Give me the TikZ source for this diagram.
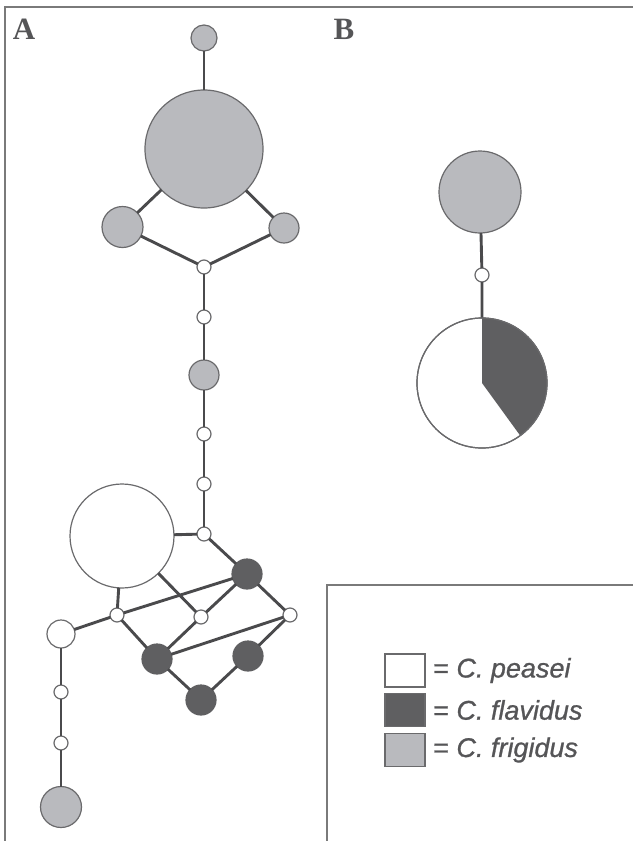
\documentclass[tikz,border=0pt]{standalone}
\usepackage{fontspec}
\setmainfont{Liberation Serif}
\setsansfont{Liberation Sans}
\newfontfamily\legfam[FakeBold=0.9]{Liberation Sans}
\definecolor{frameC}{HTML}{7A7A7A}
\definecolor{edgeC}{HTML}{4A4A4C}
\definecolor{outC}{HTML}{6A6A6C}
\definecolor{grayF}{HTML}{B9BABE}
\definecolor{darkF}{HTML}{5F5F61}
\definecolor{txtC}{HTML}{555557}
\begin{document}
\begin{tikzpicture}[x=1pt,y=-1pt,
  hap/.style={circle,draw=outC,line width=1.2pt,inner sep=0pt,outer sep=0pt,minimum size=#1},
  gr/.style={hap=#1,fill=grayF},
  dk/.style={hap=#1,fill=darkF,draw=darkF},
  wh/.style={hap=#1,fill=white},
  mv/.style={hap=14pt,fill=white},
  edge/.style={draw=edgeC,line width=2.9pt},
  frame/.style={draw=frameC,line width=1.8pt},
  lbl/.style={font=\bfseries\fontsize{31}{31}\selectfont,text=txtC,inner sep=0pt},
  legsq/.style={draw=outC,line width=1.2pt,minimum width=40pt,minimum height=33pt,inner sep=0pt},
  legtx/.style={font=\legfam\itshape\fontsize{27}{27}\selectfont,text=txtC,anchor=west,inner sep=0pt}]
\useasboundingbox (0,0) rectangle (633,841);
% frames
\draw[frame] (5,841) -- (5,7) -- (633,7);
\draw[frame] (327,841) -- (327,585) -- (633,585);
% labels
\node[lbl] (labA) at (24,29) {A};
\node[lbl] (labB) at (344,29) {B};
% panel A nodes
\node[gr=26pt] (t1) at (204,38) {};
\node[gr=118pt] (big) at (204,149) {};
\node[gr=41pt] (lg) at (122.5,227) {};
\node[gr=30pt] (rg) at (284,228) {};
\node[mv] (m1) at (204,267) {};
\node[mv] (m2) at (204,317) {};
\node[gr=30pt] (g3) at (204,375) {};
\node[mv] (m3) at (204,434) {};
\node[mv] (m4) at (204,484) {};
\node[mv] (m5) at (204,534) {};
\node[wh=104pt] (bw) at (122,536) {};
\node[dk=30pt] (d1) at (247,574) {};
\node[mv] (wml) at (117,615) {};
\node[mv] (wmid) at (201,617) {};
\node[mv] (wr) at (290,615) {};
\node[wh=28pt] (wl) at (61,634) {};
\node[dk=30pt] (d2) at (157,659) {};
\node[dk=30pt] (d3) at (248,656) {};
\node[dk=30pt] (d4) at (201,700) {};
\node[mv] (m6) at (61,692) {};
\node[mv] (m7) at (61,743) {};
\node[gr=41pt] (gb) at (61,807) {};
% panel A edges
\draw[edge] (t1) -- (big);
\draw[edge] (big) -- (lg);
\draw[edge] (big) -- (rg);
\draw[edge] (lg) -- (m1);
\draw[edge] (rg) -- (m1);
\draw[edge] (m1) -- (m2) -- (g3) -- (m3) -- (m4) -- (m5);
\draw[edge] (bw) -- (m5);
\draw[edge] (m5) -- (d1);
\draw[edge] (d1) -- (wml);
\draw[edge] (bw) -- (wml);
\draw[edge] (bw) -- (wmid);
\draw[edge] (wmid) -- (d1);
\draw[edge] (wmid) -- (d2);
\draw[edge] (wml) -- (d2);
\draw[edge] (d1) -- (wr);
\draw[edge] (wr) -- (d2);
\draw[edge] (wr) -- (d3);
\draw[edge] (d2) -- (d4);
\draw[edge] (d3) -- (d4);
\draw[edge] (wl) -- (wml);
\draw[edge] (wl) -- (m6) -- (m7) -- (gb);
% panel B
\node[gr=82pt] (gB) at (480,192) {};
\node[mv] (mB) at (482,275) {};
\node[wh=130pt] (pie) at (482,383) {};
\draw[edge] (gB) -- (mB) -- (pie);
\fill[darkF] (pie.center) -- (pie.90) arc[start angle=90,end angle=-54,radius=65pt] -- cycle;
\draw[draw=outC,line width=1.2pt] (pie.center) circle[radius=65pt];
% legend
\node[legsq,fill=white] (s1) at (405,670.5) {};
\node[legsq,fill=darkF] (s2) at (405,710) {};
\node[legsq,fill=grayF] (s3) at (405,750) {};
\node[legtx] (t1l) at (433,670.5) {{\upshape=} C. peasei};
\node[legtx] (t2l) at (433,710) {{\upshape=} C. flavidus};
\node[legtx] (t3l) at (433,750) {{\upshape=} C. frigidus};
\end{tikzpicture}
\end{document}
